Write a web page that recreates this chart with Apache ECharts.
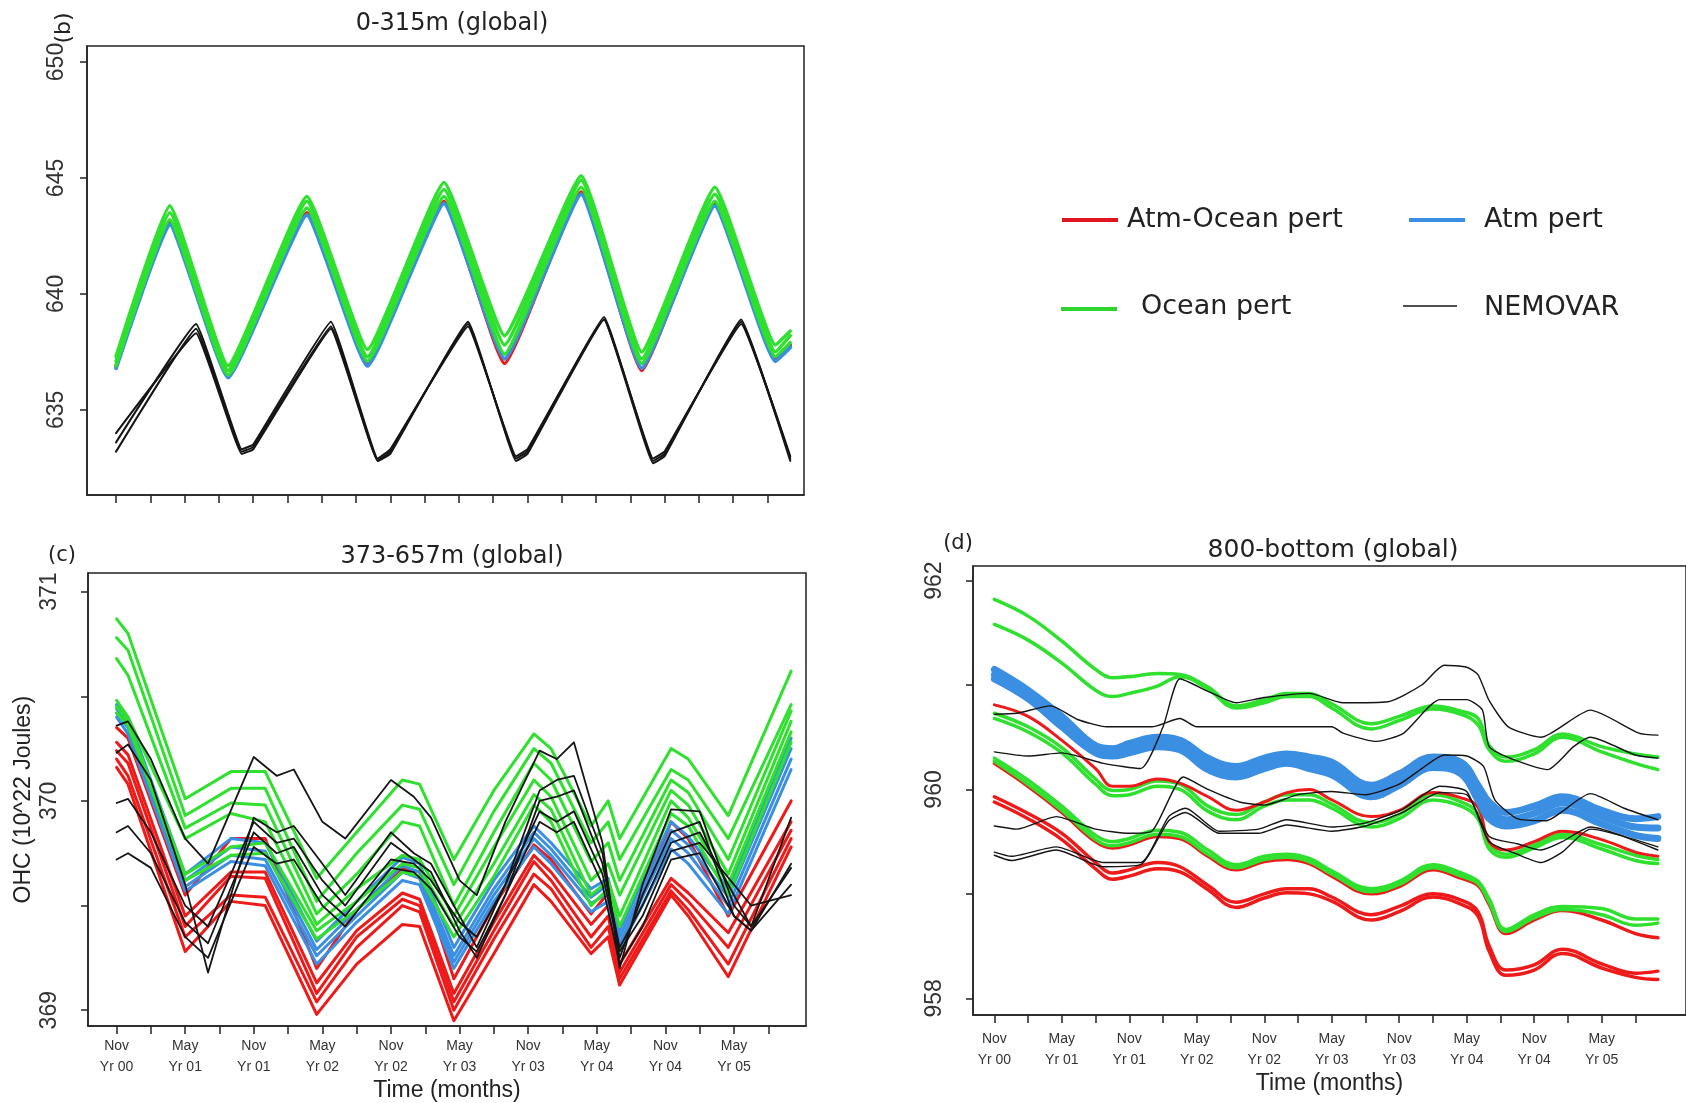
<!DOCTYPE html>
<html><head><meta charset="utf-8">
<script src="https://cdn.jsdelivr.net/npm/echarts@6/dist/echarts.min.js"></script>
<style>html,body{margin:0;padding:0;background:#fff}#c{width:1686px;height:1103px}</style>
</head><body><div id="c"></div><script>
// ---------- tick labels ----------
const xTickMonths = [0,3,6,9,12,15,18,21,24,27,30,33,36,39,42,45,48,51,54,57];
const xLabelMonths = [0,6,12,18,24,30,36,42,48,54];
const xTickLabels = ['Nov\nYr 00','May\nYr 01','Nov\nYr 01','May\nYr 02','Nov\nYr 02','May\nYr 03','Nov\nYr 03','May\nYr 04','Nov\nYr 04','May\nYr 05'];
const yTicksB = [635,640,645,650];
const yTicksC = [369,369.5,370,370.5,371], yLabelsC = [369,370,371];
const yTicksD = [958,959,960,961,962], yLabelsD = [958,960,962];

// ---------- panel (b) 0-315m ----------
const monthsB = [0,4.7,9.8,16.7,22,28.7,34,40.7,46,52.4,57.7,59];
const b_red    = [636.9,643.1,636.5,643.5,637.0,644.0,637.0,644.4,636.7,643.9,637.2,637.8];
const b_blue   = [636.8,643.0,636.4,643.4,636.9,643.9,637.2,644.3,636.8,643.8,637.1,637.7];
const b_green1 = [637.3,643.8,636.9,644.2,637.6,644.8,638.2,645.1,637.5,644.6,637.8,638.4];
const b_green2 = [637.1,643.5,636.7,644.0,637.3,644.5,637.8,644.9,637.2,644.3,637.5,638.2];
const b_green3 = [636.9,643.2,636.5,643.7,637.1,644.2,637.4,644.6,637.0,644.0,637.3,637.9];
const monthsBn = [0,7,11,12,18.8,22.9,24,30.8,35,36,42.7,47,48,54.7,59];
const b_nemo1 = [633.2,638.5,633.2,633.4,638.6,632.8,633.2,638.7,632.9,633.2,639.0,632.8,633.1,638.8,632.9];
const b_nemo2 = [633.6,638.7,633.3,633.5,638.8,632.9,633.3,638.6,633.0,633.3,638.9,632.9,633.2,638.7,633.0];
const b_nemo3 = [634.0,638.3,633.1,633.3,638.5,632.8,633.1,638.8,632.8,633.1,638.9,632.7,633.0,638.9,632.8];

// ---------- panel (c) 373-657m ----------
const monthsC = [0,1,6,10,13,17.5,21,25,26.5,29.5,33,36.5,38,41.5,43,44,48.5,50,53.5,59];
const c_red1 = [370.35,370.3,369.55,369.82,369.82,369.2,369.48,369.68,369.66,369.15,369.5,369.79,369.72,369.46,369.56,369.3,369.9,369.82,369.45,370.0];
const c_red2 = [370.28,370.22,369.45,369.66,369.66,369.13,369.38,369.56,369.53,369.08,369.42,369.74,369.66,369.41,369.5,369.22,369.63,369.56,369.37,369.9];
const c_red3 = [370.24,370.18,369.4,369.64,369.63,369.08,369.35,369.53,369.5,369.04,369.38,369.71,369.62,369.35,369.45,369.18,369.6,369.52,369.3,369.86];
const c_red4 = [370.2,370.12,369.35,369.55,369.54,369.04,369.3,369.5,369.47,369.0,369.34,369.65,369.58,369.3,369.4,369.15,369.57,369.48,369.22,369.82];
const c_red5 = [370.16,370.08,369.28,369.52,369.5,368.98,369.22,369.41,369.4,368.95,369.27,369.6,369.52,369.27,369.35,369.12,369.55,369.45,369.16,369.78];
const c_blue1 = [370.46,370.4,369.65,369.82,369.8,369.33,369.52,369.73,369.7,369.3,369.62,369.88,369.8,369.58,369.63,369.38,369.9,369.83,369.58,370.3];
const c_blue2 = [370.44,370.37,369.62,369.78,369.76,369.29,369.48,369.69,369.66,369.26,369.58,369.85,369.77,369.54,369.6,369.35,369.86,369.79,369.54,370.25];
const c_blue3 = [370.42,370.35,369.59,369.74,369.72,369.26,369.45,369.66,369.63,369.23,369.55,369.82,369.74,369.51,369.56,369.32,369.82,369.75,369.5,370.2];
const c_blue4 = [370.4,370.32,369.57,369.71,369.69,369.22,369.42,369.62,369.6,369.2,369.52,369.78,369.7,369.47,369.52,369.29,369.77,369.7,369.46,370.15];
const c_green1 = [370.87,370.8,370.01,370.14,370.14,369.63,369.85,370.1,370.08,369.72,370.05,370.32,370.25,369.88,370.0,369.82,370.25,370.2,369.93,370.62];
const c_green2 = [370.78,370.72,369.93,370.06,370.06,369.52,369.75,369.98,369.96,369.6,369.95,370.25,370.18,369.8,369.9,369.72,370.15,370.1,369.82,370.46];
const c_green3 = [370.68,370.6,369.87,369.99,369.98,369.46,369.65,369.9,369.88,369.5,369.85,370.18,370.1,369.71,369.8,369.62,370.1,370.04,369.72,370.43];
const c_green4 = [370.48,370.4,369.82,369.94,369.9,369.41,369.58,369.74,369.72,369.45,369.78,370.1,370.02,369.62,369.7,369.55,370.05,369.98,369.65,370.38];
const c_green5 = [370.45,370.38,369.65,369.78,369.8,369.38,369.52,369.7,369.68,369.4,369.7,370.03,369.96,369.55,369.62,369.45,370.0,369.92,369.6,370.33];
const c_green6 = [370.42,370.36,369.62,369.74,369.75,369.34,369.48,369.66,369.64,369.35,369.64,369.98,369.9,369.5,369.58,369.4,369.94,369.88,369.55,370.28];
const monthsCn = [0,1,3,6,8,12,14,15.5,18,20,24,26,27.5,30,31.5,34,37,38.5,40,42.5,44,46,48.5,51,54,55.5,59];
const c_nemo1 = [370.36,370.38,370.2,369.82,369.7,370.21,370.12,370.15,369.9,369.82,370.1,370.02,369.92,369.62,369.55,369.9,370.24,370.2,370.28,369.8,369.2,369.6,369.96,369.95,369.5,369.4,369.92];
const c_nemo2 = [370.23,370.27,370.1,369.6,369.18,369.92,369.85,369.88,369.7,369.55,369.85,369.75,369.7,369.45,369.3,369.6,370.05,370.1,370.12,369.75,369.25,369.55,369.85,369.9,369.45,369.38,369.7];
const c_nemo3 = [369.99,370.01,369.85,369.5,369.4,369.9,369.8,369.82,369.62,369.5,369.8,369.72,369.66,369.38,369.25,369.55,370.0,370.02,370.05,369.7,369.3,369.5,369.8,369.85,369.55,369.4,369.68];
const c_nemo4 = [369.85,369.88,369.75,369.42,369.32,369.85,369.75,369.78,369.55,369.45,369.72,369.7,369.62,369.42,369.35,369.6,369.95,369.9,369.95,369.65,369.28,369.45,369.76,369.8,369.6,369.5,369.55];
const c_nemo5 = [369.72,369.75,369.68,369.35,369.25,369.78,369.7,369.72,369.5,369.4,369.68,369.66,369.58,369.35,369.28,369.55,369.9,369.85,369.9,369.6,369.22,369.4,369.72,369.75,369.45,369.38,369.6];

// ---------- panel (d) 800-bottom ----------
const monthsD = [0,3,6,9,10.5,12,14.5,16.5,19,21.5,24,26,28,30,33.5,36,39,41.5,43,44,45.5,48,50.5,54,57,59];
const d_green1 = [961.82,961.66,961.42,961.15,961.07,961.08,961.11,961.1,960.98,960.8,960.86,960.92,960.92,960.82,960.63,960.7,960.8,960.75,960.68,960.42,960.31,960.38,960.53,960.41,960.34,960.31];
const d_green2 = [961.58,961.43,961.21,960.95,960.89,960.92,960.99,961.08,960.96,960.78,960.83,960.89,960.89,960.78,960.58,960.66,960.77,960.72,960.62,960.38,960.27,960.34,960.5,960.36,960.25,960.19];
const d_blue1 = [961.15,960.95,960.7,960.42,960.39,960.44,960.5,960.47,960.3,960.22,960.3,960.34,960.31,960.26,960.04,960.15,960.31,960.26,960.04,959.88,959.78,959.84,959.93,959.8,959.72,959.74];
const d_blue2 = [961.1,960.91,960.65,960.38,960.35,960.4,960.46,960.43,960.25,960.17,960.25,960.3,960.26,960.2,959.98,960.1,960.26,960.2,959.97,959.8,959.71,959.77,959.87,959.74,959.64,959.63];
const d_blue3 = [961.06,960.87,960.6,960.35,960.32,960.35,960.41,960.38,960.19,960.12,960.2,960.25,960.2,960.14,959.93,960.04,960.21,960.15,959.9,959.72,959.65,959.7,959.8,959.67,959.56,959.53];
const d_green3 = [960.73,960.6,960.4,960.1,959.99,960.0,960.08,960.05,959.84,959.76,959.88,959.95,959.95,959.86,959.68,959.76,959.95,959.88,959.77,959.48,959.38,959.47,959.57,959.47,959.37,959.33];
const d_green4 = [960.68,960.55,960.35,960.05,959.94,959.95,960.03,960.0,959.79,959.71,959.84,959.9,959.9,959.82,959.64,959.72,959.9,959.84,959.72,959.43,959.35,959.44,959.54,959.43,959.32,959.29];
const d_red1 = [960.81,960.7,960.47,960.2,960.03,960.03,960.1,960.06,959.93,959.8,959.88,959.97,960.0,959.9,959.74,959.8,959.97,959.92,959.83,959.5,959.42,959.5,959.6,959.52,959.4,959.36];
const d_green5 = [960.3,960.09,959.84,959.56,959.5,959.53,959.61,959.59,959.42,959.28,959.36,959.38,959.34,959.22,959.05,959.12,959.28,959.2,959.12,958.95,958.66,958.8,958.88,958.86,958.76,958.76];
const d_green6 = [960.27,960.05,959.8,959.52,959.46,959.49,959.57,959.55,959.38,959.25,959.33,959.35,959.31,959.19,959.02,959.09,959.25,959.17,959.1,958.92,958.64,958.77,958.85,958.8,958.7,958.72];
const d_red3 = [960.25,960.03,959.78,959.5,959.44,959.47,959.55,959.53,959.36,959.23,959.31,959.33,959.29,959.17,959.0,959.07,959.23,959.15,959.08,958.9,958.62,958.75,958.84,958.75,958.62,958.58];
const d_red2a = [959.93,959.77,959.58,959.3,959.2,959.23,959.3,959.26,959.08,958.92,959.0,959.05,959.05,958.97,958.8,958.88,959.0,958.94,958.83,958.5,958.27,958.32,958.47,958.33,958.24,958.26];
const d_red2b = [959.88,959.72,959.52,959.24,959.14,959.17,959.24,959.21,959.04,958.87,958.96,959.01,959.0,958.93,958.75,958.83,958.97,958.9,958.79,958.45,958.22,958.27,958.43,958.29,958.2,958.18];
const d_nemo1_m = [0,3,6,9.7,13,15,16.5,19,21.5,24,28,31,35,38,40,42,43,44,45.7,48.6,53,57.3,59];
const d_nemo1 = [960.36,960.32,960.35,960.25,960.2,960.6,961.06,960.94,960.83,960.88,960.92,960.83,960.84,961.0,961.19,961.17,961.1,960.85,960.6,960.5,960.76,960.54,960.52];
const d_nemo2_m = [0,2,5,7.4,10,14,16.5,18,24,30,31,34,36.4,39.6,42,43.4,44,46.3,49.2,51.5,53,57,59];
const d_nemo2 = [960.72,960.73,960.8,960.67,960.6,960.6,960.68,960.6,960.6,960.6,960.54,960.46,960.54,960.86,960.86,960.76,960.41,960.28,960.19,960.41,960.5,960.33,960.3];
const d_nemo3_m = [0,2,5.5,9,12,14,16.8,19,21.8,24,27,30,33,36,38,40,42,43.5,44.5,46.5,49,53,56,59];
const d_nemo3 = [959.65,959.62,959.74,959.62,959.58,959.6,960.12,960.0,959.88,959.85,959.95,959.98,959.95,960.05,960.2,960.33,960.32,960.22,959.9,959.72,959.7,959.96,959.82,959.71];
const d_nemo45_m = [0,1.5,5.5,9.7,13,15.5,17,20,23.5,26,30,33,36.3,39.6,42,44,46.5,48.6,50.5,53,59];
const d_nemo4 = [959.37,959.32,959.42,959.26,959.28,959.74,959.82,959.6,959.62,959.71,959.64,959.68,959.81,960.03,959.98,959.5,959.38,959.3,959.4,959.62,959.45];
const d_nemo5 = [959.4,959.36,959.45,959.3,959.3,959.7,959.78,959.58,959.58,959.66,959.6,959.65,959.78,959.97,959.95,959.55,959.48,959.42,959.5,959.64,959.42];

// ---------- styling ----------
const RED = '#ee1a1a', BLUE = '#3b8fe2', GREEN = '#2fe02f', BLACK = '#151515';
function pts(xs, ys){ return xs.map((x,i)=>[x, ys[i]]); }
function ln(g, xs, ys, color, width, smooth){
  return {type:'line', xAxisIndex:g, yAxisIndex:g, data:pts(xs,ys), symbol:'none', showSymbol:false,
    smooth: smooth||false, silent:true, animation:false, clip:true,
    lineStyle:{color:color, width:width, join:'round', cap:'round'}};
}
const series = [];
// (b)
series.push(ln(0, monthsB, b_red, RED, 3.5, 0.12));
series.push(ln(0, monthsB, b_blue, BLUE, 4, 0.12));
series.push(ln(0, monthsB, b_green3, GREEN, 3.5, 0.12));
series.push(ln(0, monthsB, b_green2, GREEN, 3.5, 0.12));
series.push(ln(0, monthsB, b_green1, GREEN, 3.5, 0.12));
[b_nemo1,b_nemo2,b_nemo3].forEach(a=>series.push(ln(0, monthsBn, a, BLACK, 2, 0.08)));
// (c)
[c_red1,c_red2,c_red3,c_red4,c_red5].forEach(a=>series.push(ln(1, monthsC, a, RED, 3)));
[c_blue1,c_blue2,c_blue3,c_blue4].forEach(a=>series.push(ln(1, monthsC, a, BLUE, 3)));
[c_green1,c_green2,c_green3,c_green4,c_green5,c_green6].forEach(a=>series.push(ln(1, monthsC, a, GREEN, 3)));
[c_nemo1,c_nemo2,c_nemo3,c_nemo4,c_nemo5].forEach(a=>series.push(ln(1, monthsCn, a, BLACK, 1.8)));
// (d)
[d_red2a,d_red2b,d_red3].forEach(a=>series.push(ln(2, monthsD, a, RED, 3.5, 0.4)));
[d_green1,d_green2,d_green5,d_green6,d_green3,d_green4].forEach(a=>series.push(ln(2, monthsD, a, GREEN, 3.5, 0.4)));
series.push(ln(2, monthsD, d_red1, RED, 3, 0.4));
[d_blue1,d_blue2,d_blue3].forEach(a=>series.push(ln(2, monthsD, a, BLUE, 7, 0.4)));
series.push(ln(2, d_nemo1_m, d_nemo1, BLACK, 1.4, 0.2));
series.push(ln(2, d_nemo2_m, d_nemo2, BLACK, 1.4, 0.2));
series.push(ln(2, d_nemo3_m, d_nemo3, BLACK, 1.4, 0.2));
series.push(ln(2, d_nemo45_m, d_nemo4, BLACK, 1.4, 0.2));
series.push(ln(2, d_nemo45_m, d_nemo5, BLACK, 1.4, 0.2));

const axisCol = '#222';
const LAB = "'Liberation Sans', Arial, sans-serif";
const DJ = "'DejaVu Sans', sans-serif";
function xAx(g, min, max, showLab, margin, nameGap){
  return {gridIndex:g, type:'value', min:min, max:max,
    axisLine:{show:true, onZero:false, lineStyle:{color:axisCol, width:1.5}},
    axisTick:{show:true, customValues:xTickMonths, length:8, lineStyle:{color:axisCol, width:1.5}},
    axisLabel:{show:showLab, customValues:xLabelMonths, formatter:v=>xTickLabels[Math.round(v/6)]||'',
      fontFamily:LAB, fontSize:14, lineHeight:21, color:'#333', margin:margin},
    splitLine:{show:false},
    name: showLab ? 'Time (months)' : '', nameLocation:'middle', nameGap:nameGap,
    nameTextStyle:{fontFamily:LAB, fontSize:23, color:'#222'}};
}
function yAx(g, min, max, ticks, labels, margin){
  return {gridIndex:g, type:'value', min:min, max:max,
    axisLine:{show:true, onZero:false, lineStyle:{color:axisCol, width:1.5}},
    axisTick:{show:true, customValues:ticks, length:7, lineStyle:{color:axisCol, width:1.5}},
    axisLabel:{customValues:labels, rotate:90, fontFamily:LAB, fontSize:23, color:'#333', margin:margin},
    splitLine:{show:false}};
}
const yC = yAx(1, 368.924, 371.089, yTicksC, yLabelsC, 27);
yC.name = 'OHC (10^22 Joules)'; yC.nameLocation='middle'; yC.nameGap = 53;
yC.nameTextStyle = {fontFamily:LAB, fontSize:23, color:'#222'};

const gridStyle = {show:true, borderColor:axisCol, borderWidth:1.5, backgroundColor:'#fff'};
const option = {
  backgroundColor:'#fff', animation:false,
  grid:[
    Object.assign({left:87, top:46, width:717, height:449}, gridStyle),
    Object.assign({left:88, top:573, width:718, height:454}, gridStyle),
    Object.assign({left:973, top:566, width:731, height:449}, gridStyle)
  ],
  xAxis:[ xAx(0, -2.54, 60.2, false, 10, 0), xAx(1, -2.5, 60.3, true, 10, 52), xAx(2, -1.9, 61.5, true, 14, 55) ],
  yAxis:[ yAx(0, 631.33, 650.69, yTicksB, yTicksB, 19), yC, yAx(2, 957.84, 962.14, yTicksD, yLabelsD, 27) ],
  series: series,
  graphic:[
    {type:'text', x:452, y:24, style:{text:'0-315m (global)', font:"24px "+DJ, fill:'#222', align:'center', verticalAlign:'middle'}},
    {type:'text', x:452, y:557, style:{text:'373-657m (global)', font:"24px "+DJ, fill:'#222', align:'center', verticalAlign:'middle'}},
    {type:'text', x:1333, y:550, style:{text:'800-bottom (global)', font:"25px "+DJ, fill:'#222', align:'center', verticalAlign:'middle'}},
    {type:'text', x:64, y:28, rotation:Math.PI/2, style:{text:'(b)', font:"22px "+DJ, fill:'#222', align:'center', verticalAlign:'middle'}},
    {type:'text', x:62, y:556, style:{text:'(c)', font:"21px "+DJ, fill:'#222', align:'center', verticalAlign:'middle'}},
    {type:'text', x:958, y:544, style:{text:'(d)', font:"21px "+DJ, fill:'#222', align:'center', verticalAlign:'middle'}},
    // legend
    {type:'line', shape:{x1:1062,y1:220,x2:1118,y2:220}, style:{stroke:'#e0141e', lineWidth:4}},
    {type:'text', x:1127, y:220, style:{text:'Atm-Ocean pert', font:"27px "+DJ, fill:'#222', align:'left', verticalAlign:'middle'}},
    {type:'line', shape:{x1:1409,y1:220,x2:1465,y2:220}, style:{stroke:BLUE, lineWidth:4}},
    {type:'text', x:1484, y:220, style:{text:'Atm pert', font:"27px "+DJ, fill:'#222', align:'left', verticalAlign:'middle'}},
    {type:'line', shape:{x1:1061,y1:309,x2:1117,y2:309}, style:{stroke:'#2fd52f', lineWidth:4}},
    {type:'text', x:1141, y:307, style:{text:'Ocean pert', font:"27px "+DJ, fill:'#222', align:'left', verticalAlign:'middle'}},
    {type:'line', shape:{x1:1403,y1:306,x2:1457,y2:306}, style:{stroke:BLACK, lineWidth:1.6}},
    {type:'text', x:1484, y:308, style:{text:'NEMOVAR', font:"27px "+DJ, fill:'#222', align:'left', verticalAlign:'middle'}}
  ]
};
const chart = echarts.init(document.getElementById('c'), null, {renderer:'canvas', width:1686, height:1103});
chart.setOption(option);
</script></body></html>
